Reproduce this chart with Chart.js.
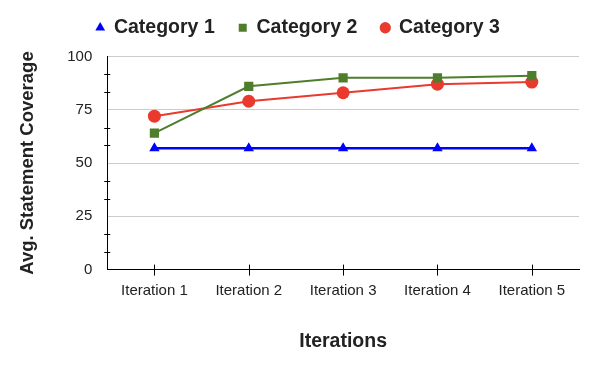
<!DOCTYPE html>
<html>
<head>
<meta charset="utf-8">
<script src="https://cdn.jsdelivr.net/npm/chart.js@4.4.0/dist/chart.umd.min.js"></script>
<style>
  html, body { margin: 0; padding: 0; background: #fff; }
  #wrap { width: 594px; height: 365px; position: relative; }
</style>
</head>
<body>
<div id="wrap"><canvas id="c" width="594" height="365"></canvas></div>
<script>
const categories = ["Iteration 1", "Iteration 2", "Iteration 3", "Iteration 4", "Iteration 5"];
const category1 = [57, 57, 57, 57, 57];
const category2 = [64, 86, 90, 90, 91];
const category3 = [72, 79, 83, 87, 88];
const yMajorTicks = [0, 25, 50, 75, 100];
const seriesNames = ["Category 1", "Category 2", "Category 3"];

function isMajor(v) {
  return Math.abs(v - Math.round(v)) < 1e-6 && yMajorTicks.includes(Math.round(v));
}

const legendSpace = {
  id: 'legendSpace',
  afterInit(chart) {
    const lg = chart.legend;
    if (lg && !lg._wrappedFit) {
      const orig = lg.fit;
      lg.fit = function () { orig.call(this); this.height += 9; };
      lg._wrappedFit = true;
    }
  }
};

const tickMarks = {
  id: 'tickMarks',
  afterDraw(chart) {
    const ctx = chart.ctx;
    const xs = chart.scales.x, ys = chart.scales.y;
    ctx.save();
    ctx.strokeStyle = '#000';
    ctx.lineWidth = 1;
    ys.ticks.forEach((t, i) => {
      if (isMajor(t.value)) return;
      const y = Math.round(ys.getPixelForTick(i)) + 0.5;
      ctx.beginPath();
      ctx.moveTo(xs.left - 3, y);
      ctx.lineTo(xs.left + 3, y);
      ctx.stroke();
    });
    xs.ticks.forEach((t, i) => {
      const x = Math.round(xs.getPixelForTick(i)) + 0.5;
      ctx.beginPath();
      ctx.moveTo(x, ys.bottom - 5);
      ctx.lineTo(x, ys.bottom + 6);
      ctx.stroke();
    });
    ctx.restore();
  }
};

new Chart(document.getElementById('c'), {
  type: 'line',
  data: {
    labels: categories,
    datasets: [
      { label: seriesNames[0], data: category1, borderColor: '#0000ff', backgroundColor: '#0000ff',
        pointStyle: 'triangle', pointRadius: 6, borderWidth: 2.5, pointBorderWidth: 0 },
      { label: seriesNames[1], data: category2, borderColor: '#4e7d2c', backgroundColor: '#4e7d2c',
        pointStyle: 'rect', pointRadius: 6.5, borderWidth: 2, pointBorderWidth: 0 },
      { label: seriesNames[2], data: category3, borderColor: '#ea3a2d', backgroundColor: '#ea3a2d',
        pointStyle: 'circle', pointRadius: 6.5, borderWidth: 2, pointBorderWidth: 0 }
    ]
  },
  options: {
    responsive: false,
    animation: false,
    devicePixelRatio: 1,
    layout: { padding: { left: 17, right: 15, top: -6, bottom: 12 } },
    plugins: {
      legend: {
        position: 'top',
        labels: {
          usePointStyle: true,
          boxWidth: 8, boxHeight: 8,
          padding: 24,
          color: '#222',
          font: { family: 'Liberation Sans, Arial, sans-serif', size: 19.5, weight: 'bold' }
        }
      },
      tooltip: { enabled: false }
    },
    scales: {
      x: {
        offset: true,
        grid: { display: false, drawTicks: false },
        border: { color: '#000', width: 1 },
        ticks: { color: '#222', padding: 12, font: { family: 'Liberation Sans, Arial, sans-serif', size: 15 } },
        title: { display: true, text: 'Iterations', color: '#222', padding: { top: 18, bottom: 0 },
          font: { family: 'Liberation Sans, Arial, sans-serif', size: 19.5, weight: 'bold' } }
      },
      y: {
        min: 0, max: 100,
        afterBuildTicks(scale) {
          const t = [];
          for (let i = 0; i <= 12; i++) t.push({ value: i * 25 / 3 });
          scale.ticks = t;
        },
        grid: {
          drawTicks: false,
          color: ctx => (ctx.tick && isMajor(ctx.tick.value)) ? '#cccccc' : 'rgba(0,0,0,0)'
        },
        border: { color: '#000', width: 1 },
        ticks: {
          color: '#222', padding: 15, autoSkip: false,
          font: { family: 'Liberation Sans, Arial, sans-serif', size: 15 },
          callback: v => isMajor(v) ? String(Math.round(v)) : ''
        },
        title: { display: true, text: 'Avg. Statement Coverage', color: '#222', padding: { top: 0, bottom: 13 },
          font: { family: 'Liberation Sans, Arial, sans-serif', size: 18.5, weight: 'bold' } }
      }
    }
  },
  plugins: [legendSpace, tickMarks]
});
</script>
</body>
</html>
